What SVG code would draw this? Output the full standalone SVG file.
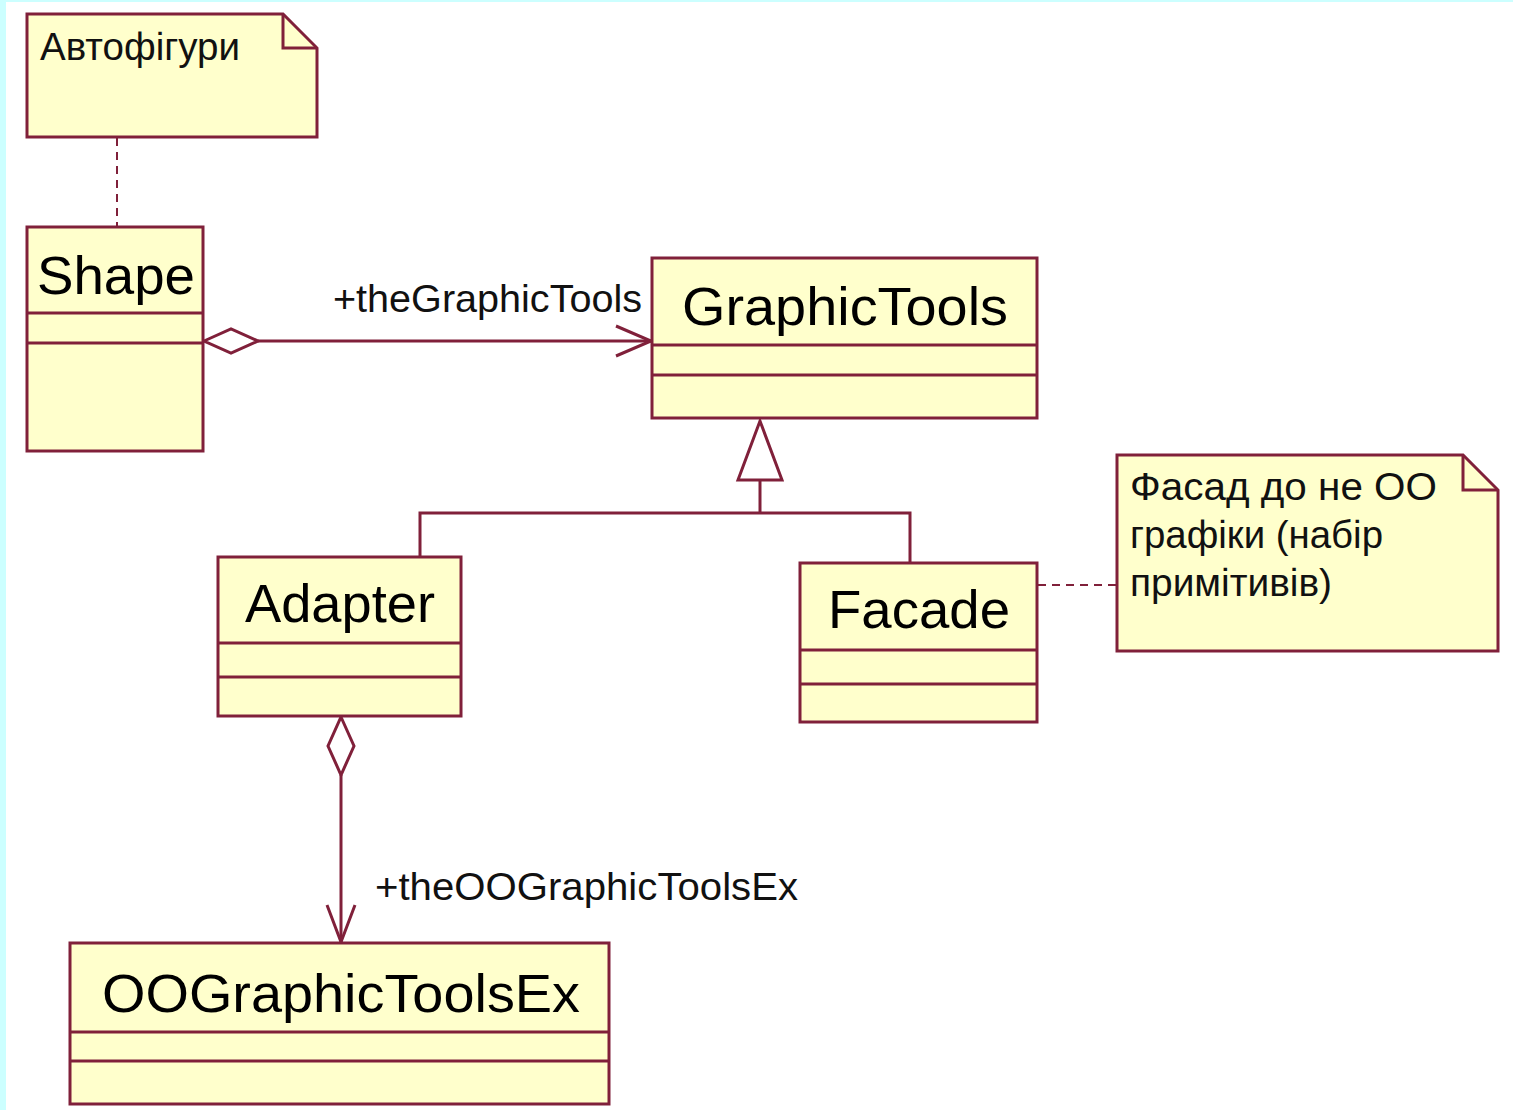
<svg xmlns="http://www.w3.org/2000/svg" width="1513" height="1110" viewBox="0 0 1513 1110">
<defs>
<style>
.box{fill:#ffffcc;stroke:#80203a;stroke-width:3}
.ln{stroke:#80203a;stroke-width:3;fill:none}
.dash{stroke:#80203a;stroke-width:2;fill:none;stroke-dasharray:8 6}
.name{font-family:"Liberation Sans",Arial,sans-serif;font-size:53px;fill:#000}
.lbl{font-family:"Liberation Sans",Arial,sans-serif;font-size:39px;fill:#111}
.note{font-family:"Liberation Sans",Arial,sans-serif;font-size:38px;fill:#111}
</style>
</defs>
<rect x="0" y="0" width="1513" height="1110" fill="#ffffff"/>
<rect x="0" y="0" width="6" height="1110" fill="#ccffff"/>
<rect x="0" y="0" width="1513" height="2" fill="#ccffff"/>

<g id="connectors">
  <line class="dash" x1="117" y1="138" x2="117" y2="226"/>
  <line class="dash" x1="1038" y1="585" x2="1116" y2="585"/>
  <line class="ln" x1="258" y1="341" x2="651" y2="341"/>
  <polygon class="ln" points="204,341 231,329 258,341 231,353" style="fill:#fff"/>
  <polyline class="ln" points="616,326 651,341 616,356"/>
  <text class="lbl" x="333" y="312" textLength="309" lengthAdjust="spacingAndGlyphs">+theGraphicTools</text>
  <polyline class="ln" points="420,557 420,513 910,513 910,563"/>
  <line class="ln" x1="760" y1="513" x2="760" y2="480"/>
  <polygon class="ln" points="760,421 738,480 782,480" style="fill:#fff"/>
  <polygon class="ln" points="341,717 354,746 341,775 328,746" style="fill:#fff"/>
  <line class="ln" x1="341" y1="775" x2="341" y2="942"/>
  <polyline class="ln" points="327,905 341,942 355,905"/>
  <text class="lbl" x="375" y="900" textLength="423" lengthAdjust="spacingAndGlyphs">+theOOGraphicToolsEx</text>
</g>

<g id="note-autofigures">
  <path class="box" d="M27,14 L283,14 L317,48 L317,137 L27,137 Z"/>
  <polyline class="ln" points="283,14 283,48 317,48"/>
  <text class="note" x="40" y="60" textLength="200" lengthAdjust="spacingAndGlyphs">Автофігури</text>
</g>

<g id="shape">
  <rect class="box" x="27" y="227" width="176" height="224"/>
  <line class="ln" x1="27" y1="313" x2="203" y2="313"/>
  <line class="ln" x1="27" y1="343" x2="203" y2="343"/>
  <text class="name" x="37" y="294" textLength="158" lengthAdjust="spacingAndGlyphs">Shape</text>
</g>

<g id="graphictools">
  <rect class="box" x="652" y="258" width="385" height="160"/>
  <line class="ln" x1="652" y1="345" x2="1037" y2="345"/>
  <line class="ln" x1="652" y1="375" x2="1037" y2="375"/>
  <text class="name" x="682" y="325" textLength="326" lengthAdjust="spacingAndGlyphs">GraphicTools</text>
</g>

<g id="adapter">
  <rect class="box" x="218" y="557" width="243" height="159"/>
  <line class="ln" x1="218" y1="643" x2="461" y2="643"/>
  <line class="ln" x1="218" y1="677" x2="461" y2="677"/>
  <text class="name" x="245" y="622" textLength="190" lengthAdjust="spacingAndGlyphs">Adapter</text>
</g>

<g id="facade">
  <rect class="box" x="800" y="563" width="237" height="159"/>
  <line class="ln" x1="800" y1="650" x2="1037" y2="650"/>
  <line class="ln" x1="800" y1="684" x2="1037" y2="684"/>
  <text class="name" x="828" y="628" textLength="182" lengthAdjust="spacingAndGlyphs">Facade</text>
</g>

<g id="note-facade">
  <path class="box" d="M1117,455 L1463,455 L1498,490 L1498,651 L1117,651 Z"/>
  <polyline class="ln" points="1463,455 1463,490 1498,490"/>
  <text class="note" x="1130" y="500" textLength="307" lengthAdjust="spacingAndGlyphs">Фасад до не ОО</text>
  <text class="note" x="1130" y="548" textLength="253" lengthAdjust="spacingAndGlyphs">графіки (набір</text>
  <text class="note" x="1130" y="596" textLength="202" lengthAdjust="spacingAndGlyphs">примітивів)</text>
</g>

<g id="oographictoolsex">
  <rect class="box" x="70" y="943" width="539" height="161"/>
  <line class="ln" x1="70" y1="1032" x2="609" y2="1032"/>
  <line class="ln" x1="70" y1="1061" x2="609" y2="1061"/>
  <text class="name" x="102" y="1012" textLength="478" lengthAdjust="spacingAndGlyphs">OOGraphicToolsEx</text>
</g>
</svg>
